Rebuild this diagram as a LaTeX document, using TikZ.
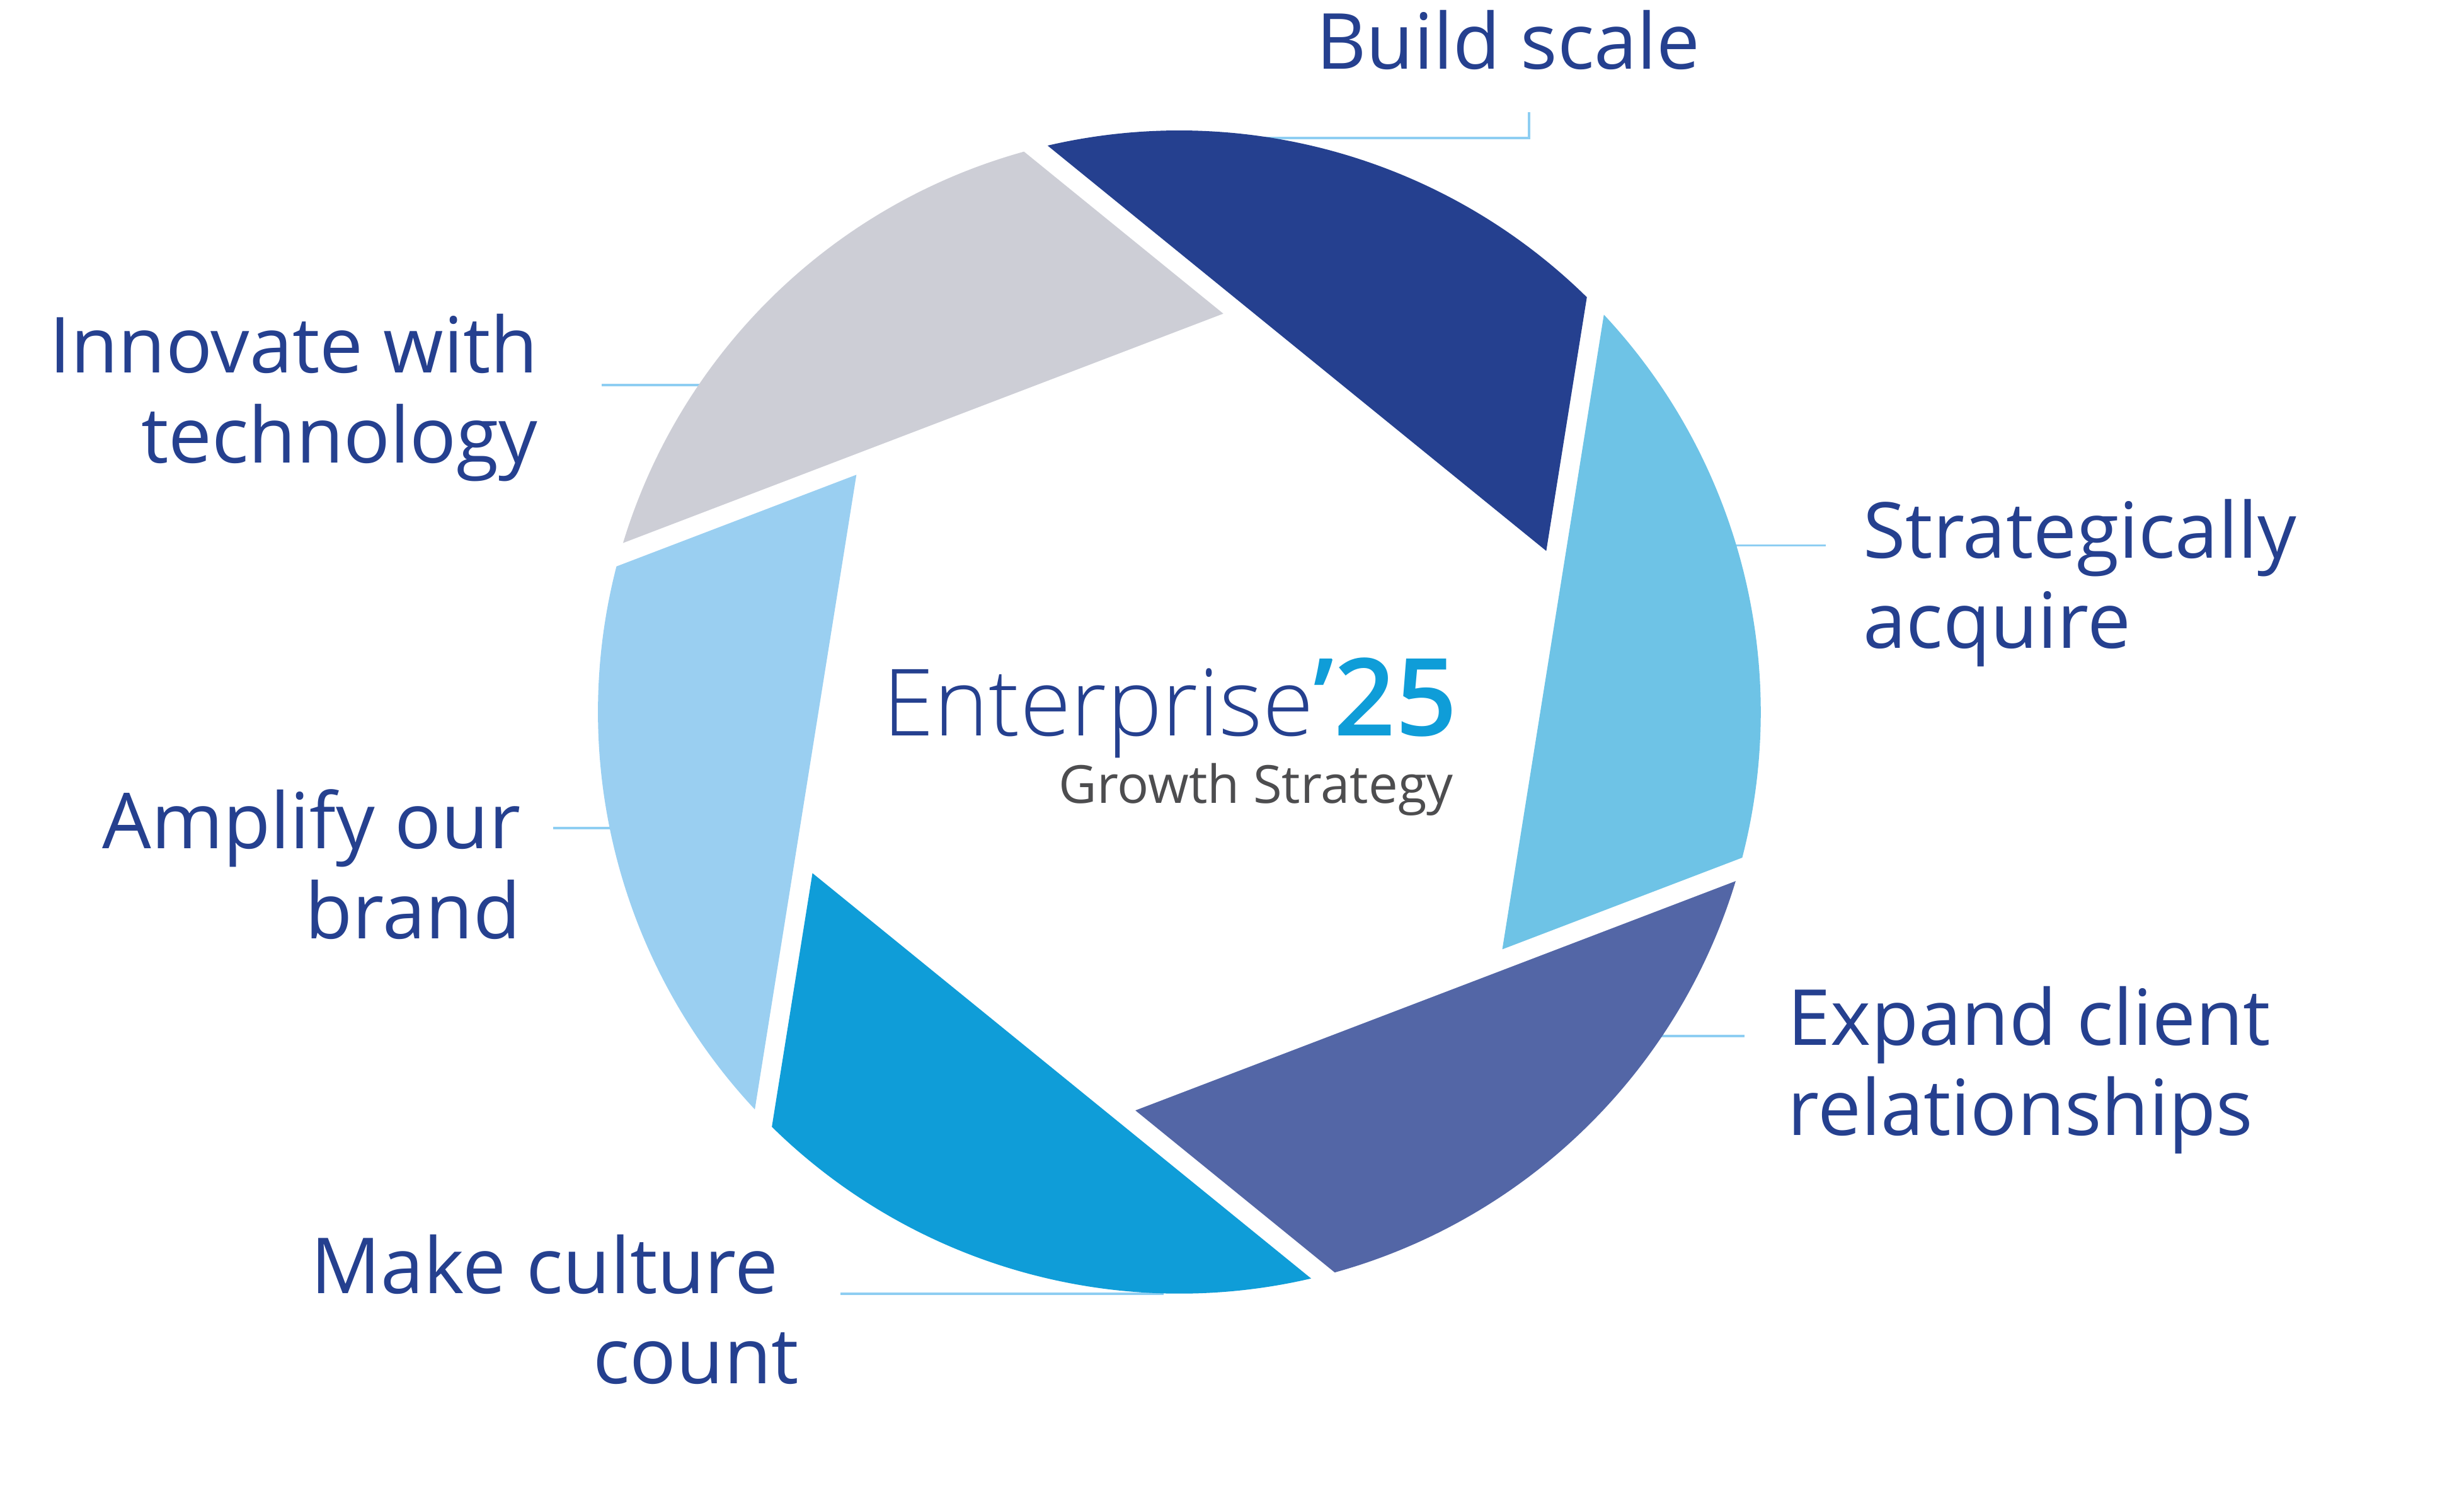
\documentclass[tikz,border=0pt]{standalone}
\usepackage{fontspec}
\setmainfont{Open Sans}
\newfontfamily\lightfont{Open Sans Light}
\usepackage{xcolor}
\definecolor{navy}{RGB}{37,64,143}
\definecolor{sky}{RGB}{110,195,230}
\definecolor{slate}{RGB}{83,102,166}
\definecolor{ocean}{RGB}{15,157,216}
\definecolor{pale}{RGB}{154,207,241}
\definecolor{silver}{RGB}{205,206,214}
\definecolor{charcoal}{RGB}{77,77,79}
\definecolor{leaderblue}{RGB}{142,206,242}
\usetikzlibrary{calc}

\begin{document}
\begin{tikzpicture}[
    labeltext/.style={font=\fontsize{14}{16.3}\selectfont, text=navy, inner sep=0pt},
    leaderline/.style={draw=leaderblue, line width=0.45pt}
]
    \useasboundingbox (-7.505,-5.03) rectangle (8.175,4.53);
    \coordinate (O) at (0,0);

    % Leader lines, drawn first so the blades cover their inner ends
    \coordinate (scale-in) at (0,3.65);
    \coordinate (scale-knee) at (2.225,3.65);
    \coordinate (scale-out) at (2.225,3.815);
    \draw[leaderline] (scale-in) -- (scale-knee) -- (scale-out);
    \coordinate (acquire-in) at (3.5,1.06);
    \coordinate (acquire-out) at (4.115,1.06);
    \draw[leaderline] (acquire-in) -- (acquire-out);
    \coordinate (expand-in) at (3.0,-2.06);
    \coordinate (expand-out) at (3.595,-2.06);
    \draw[leaderline] (expand-in) -- (expand-out);
    \coordinate (culture-in) at (-0.1,-3.70);
    \coordinate (culture-out) at (-2.155,-3.70);
    \draw[leaderline] (culture-in) -- (culture-out);
    \coordinate (brand-in) at (-3.5,-0.74);
    \coordinate (brand-out) at (-3.985,-0.74);
    \draw[leaderline] (brand-in) -- (brand-out);
    \coordinate (tech-in) at (-2.9,2.08);
    \coordinate (tech-out) at (-3.675,2.08);
    \draw[leaderline] (tech-in) -- (tech-out);

    % Six shutter blades, clockwise from the top
    \foreach \clr [count=\k from 0] in {navy,sky,slate,ocean,pale,silver}
        \fill[\clr] ({23.7-60*\k}:2.55) -- ({103.1-60*\k}:3.7)
            arc[start angle={103.1-60*\k}, delta angle=-57.6, radius=3.7] -- cycle;

    % Centre title
    \node[anchor=base east, inner sep=0pt, text=navy] (title) at (1.775,-0.15)
        {\fontsize{16.8}{20}\lightfont Enterprise\textcolor{ocean}{\fontsize{19.5}{20}\selectfont\bfseries ’25}};
    \node[anchor=base east, inner sep=0pt, text=charcoal, font=\fontsize{9.5}{11}\selectfont] (subtitle) at (1.75,-0.58)
        {Growth Strategy};

    % Labels (multi-line nodes sit on the baseline of their last line)
    \node[labeltext, anchor=base west] (scale) at (0.865,4.09) {Build scale};
    \node[labeltext, align=left, anchor=base west] (acquire) at (4.345,0.407) {Strategically\\acquire};
    \node[labeltext, align=left, anchor=base west] (expand) at (3.865,-2.693) {Expand client\\relationships};
    \node[labeltext, align=right, anchor=base east] (culture) at (-2.415,-4.273) {Make culture\hspace*{0.13cm}\\count};
    \node[labeltext, align=right, anchor=base east] (brand) at (-4.185,-1.443) {Amplify our\\brand};
    \node[labeltext, align=right, anchor=base east] (tech) at (-4.075,1.587) {Innovate with\\technology};
\end{tikzpicture}
\end{document}
